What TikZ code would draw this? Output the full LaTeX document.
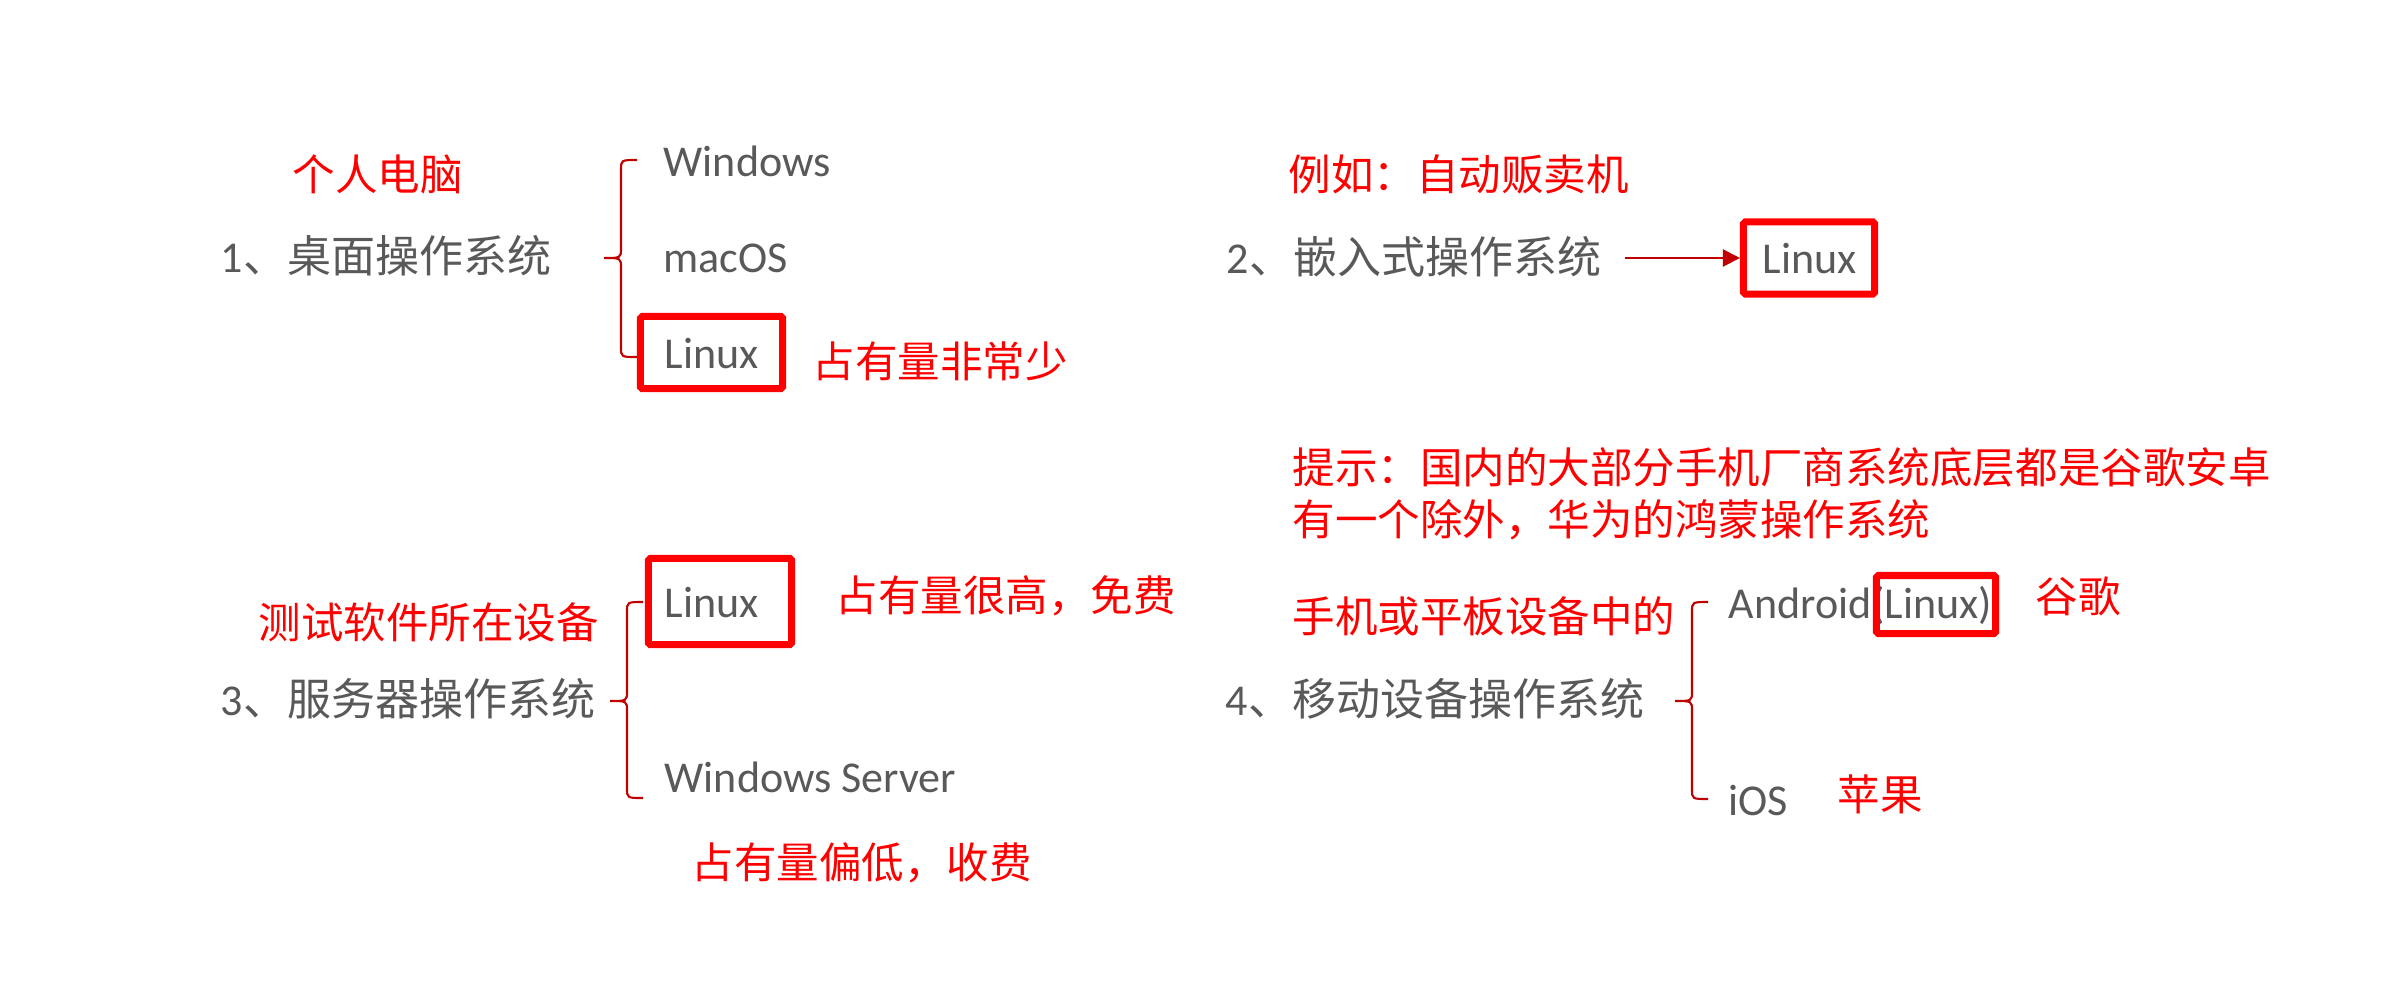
\documentclass[tikz,border=0pt]{standalone}
\usepackage{fontspec}
\setmainfont{Carlito}
\newfontfamily\cjk{Noto Sans CJK SC}
\usetikzlibrary{arrows.meta}
\definecolor{txtgray}{HTML}{595959}
\definecolor{hired}{HTML}{FF0000}
\definecolor{darkred}{HTML}{C00000}
\begin{document}
\begin{tikzpicture}[x=0.01cm,y=-0.01cm,
  ostext/.style={anchor=west, inner sep=0pt, text=txtgray, font=\fontsize{12.52}{15}\selectfont, text height=0.31cm, text depth=0cm},
  note/.style={anchor=west, inner sep=0pt, text=hired, font=\fontsize{12.09}{14.5}\selectfont\cjk, text height=0.30cm, text depth=0cm},
  redbox/.style={draw=hired, line width=0.07cm, rounded corners=0.5pt, inner sep=0pt},
  bracel/.style={draw=darkred, line width=0.6pt},
  arr/.style={draw=darkred, line width=0.6pt, -{Triangle[length=0.17cm,width=0.17cm]}}]
\fill[white] (0,0) rectangle (2382,984);
\useasboundingbox (0,0) rectangle (2382,984);

% 1
\node[note] (p1) at (292,175) {个人电脑};
\node[ostext] (t1) at (220,257) {1{\cjk 、桌面操作系统}};
\node[ostext] (w1) at (663,161) {Windows};
\node[ostext] (m1) at (663,257) {macOS};
\node[ostext] (l1) at (664,353) {Linux};
\node[redbox, minimum width=1.42cm, minimum height=0.72cm] (b1) at (711.5,352.5) {};
\node[note] (n1) at (812,362) {占有量非常少};
\draw[bracel] (637,160) .. controls (621,160) .. (621,170) -- (621,248)
  .. controls (621,258) .. (604,258) .. controls (621,258) .. (621,268)
  -- (621,347) .. controls (621,357) .. (637,357);

% 2
\node[note] (p2) at (1288,175) {例如：自动贩卖机};
\node[ostext] (t2) at (1226,258) {2{\cjk 、嵌入式操作系统}};
\node[ostext] (l2) at (1762,258) {Linux};
\node[redbox, minimum width=1.31cm, minimum height=0.72cm] (b2) at (1809,258) {};
\draw[arr, shorten <=0.23cm] (t2.east) -- (b2.west);

% 3
\node[note] (p3) at (258,623) {测试软件所在设备};
\node[ostext] (t3) at (220,700) {3{\cjk 、服务器操作系统}};
\node[ostext] (l3) at (664,602) {Linux};
\node[redbox, minimum width=1.43cm, minimum height=0.86cm] (b3) at (720,601.5) {};
\node[note] (n3) at (835,596) {占有量很高，免费};
\node[ostext] (ws) at (664,777) {Windows Server};
\node[note] (n3b) at (691,863) {占有量偏低，收费};
\draw[bracel] (643,602) .. controls (627,602) .. (627,612) -- (627,691)
  .. controls (627,701) .. (610,701) .. controls (627,701) .. (627,711)
  -- (627,788) .. controls (627,798) .. (643,798);

% 4
\node[note] (h1) at (1292,468) {提示：国内的大部分手机厂商系统底层都是谷歌安卓};
\node[note] (h2) at (1292,520) {有一个除外，华为的鸿蒙操作系统};
\node[note] (p4) at (1292,617) {手机或平板设备中的};
\node[ostext] (t4) at (1225,700) {4{\cjk 、移动设备操作系统}};
\node[ostext] (an) at (1728,603) {Android(Linux)};
\node[redbox, minimum width=1.19cm, minimum height=0.58cm] (b4) at (1936,604.5) {};
\node[note] (g4) at (2035,597) {谷歌};
\node[ostext] (io) at (1728,800) {iOS};
\node[note] (a4) at (1837,795) {苹果};
\draw[bracel] (1708,602) .. controls (1692,602) .. (1692,612) -- (1692,691)
  .. controls (1692,701) .. (1675,701) .. controls (1692,701) .. (1692,711)
  -- (1692,789) .. controls (1692,799) .. (1708,799);
\end{tikzpicture}
\end{document}
